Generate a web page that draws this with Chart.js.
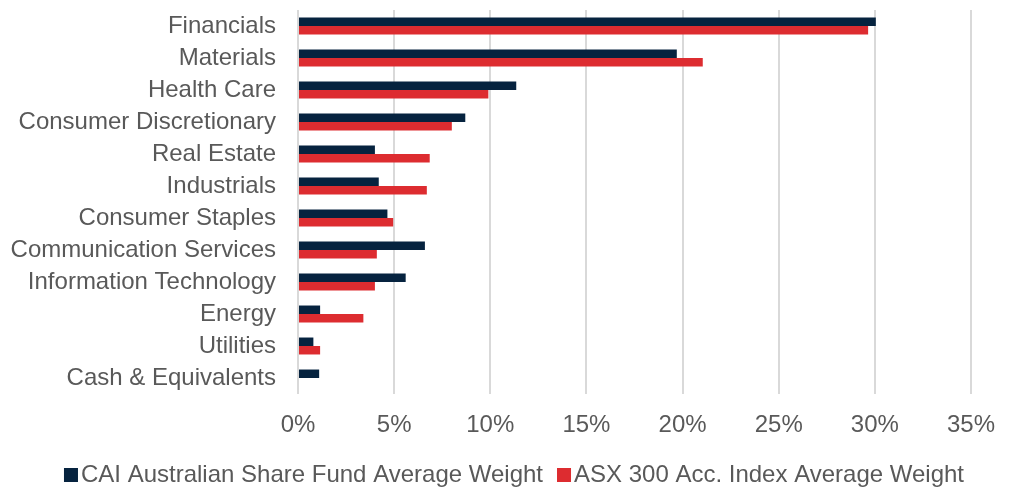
<!DOCTYPE html>
<html>
<head>
<meta charset="utf-8">
<script src="https://cdn.jsdelivr.net/npm/chart.js@4/dist/chart.umd.min.js"></script>
<style>
  html, body { margin: 0; padding: 0; background: #ffffff; }
  #wrap { width: 1010px; height: 487px; position: relative; }
</style>
</head>
<body>
<div id="wrap"><canvas id="c" width="1010" height="487"></canvas></div>
<script>
const categories = ["Financials", "Materials", "Health Care", "Consumer Discretionary", "Real Estate", "Industrials", "Consumer Staples", "Communication Services", "Information Technology", "Energy", "Utilities", "Cash & Equivalents"];
const fundWeights = [30.05, 19.7, 11.35, 8.7, 4.0, 4.2, 4.65, 6.6, 5.6, 1.15, 0.8, 1.1];
const indexWeights = [29.65, 21.05, 9.9, 8.0, 6.85, 6.7, 4.95, 4.1, 4.0, 3.4, 1.15, 0];
const seriesNames = ["CAI Australian Share Fund Average Weight", "ASX 300 Acc. Index Average Weight"];
const xTicks = [0, 5, 10, 15, 20, 25, 30, 35];

const FONT = "'Liberation Sans', Arial, sans-serif";
const TEXT = "#595959";

const legendPlugin = {
  id: 'customLegend',
  afterDraw(chart) {
    const ctx = chart.ctx;
    ctx.save();
    ctx.font = "24px " + FONT;
    const box = 14, gap = 3, itemGap = 14;
    const items = chart.data.datasets.map(d => ({ text: d.label, color: d.backgroundColor, w: ctx.measureText(d.label).width }));
    let total = items.reduce((s, it) => s + box + gap + it.w, 0) + itemGap * (items.length - 1);
    let x = 514 - total / 2;
    const cy = 474;
    ctx.textBaseline = 'middle';
    ctx.textAlign = 'left';
    items.forEach(it => {
      ctx.fillStyle = it.color;
      ctx.fillRect(x, cy - box / 2 + 1, box, box);
      ctx.fillStyle = TEXT;
      ctx.fillText(it.text, x + box + gap, cy + 1);
      x += box + gap + it.w + itemGap;
    });
    ctx.restore();
  }
};

new Chart(document.getElementById('c'), {
  type: 'bar',
  data: {
    labels: categories,
    datasets: [
      { label: seriesNames[0], data: fundWeights, backgroundColor: '#06233f', categoryPercentage: 0.53, barPercentage: 1.0 },
      { label: seriesNames[1], data: indexWeights, backgroundColor: '#dd2c30', categoryPercentage: 0.53, barPercentage: 1.0 }
    ]
  },
  options: {
    indexAxis: 'y',
    responsive: false,
    animation: false,
    layout: { padding: { top: 10, right: 39, bottom: 0, left: 0 } },
    plugins: { legend: { display: false }, tooltip: { enabled: false } },
    scales: {
      x: {
        min: 0, max: 35,
        afterBuildTicks(scale) { scale.ticks = xTicks.map(v => ({ value: v })); },
        afterFit(scale) { scale.height = 93; scale.paddingLeft = 0; scale.paddingRight = 0; },
        ticks: { callback: v => v + '%', color: TEXT, font: { family: FONT, size: 24 }, padding: 17, maxRotation: 0 },
        grid: { color: '#d9d9d9', lineWidth: 2, drawTicks: false },
        border: { display: false }
      },
      y: {
        afterFit(scale) { scale.width = 298; scale.paddingTop = 0; scale.paddingBottom = 0; },
        ticks: { color: TEXT, font: { family: FONT, size: 24 }, padding: 22, autoSkip: false },
        grid: { display: false, drawTicks: false },
        border: { display: false }
      }
    }
  },
  plugins: [legendPlugin]
});
</script>
</body>
</html>
